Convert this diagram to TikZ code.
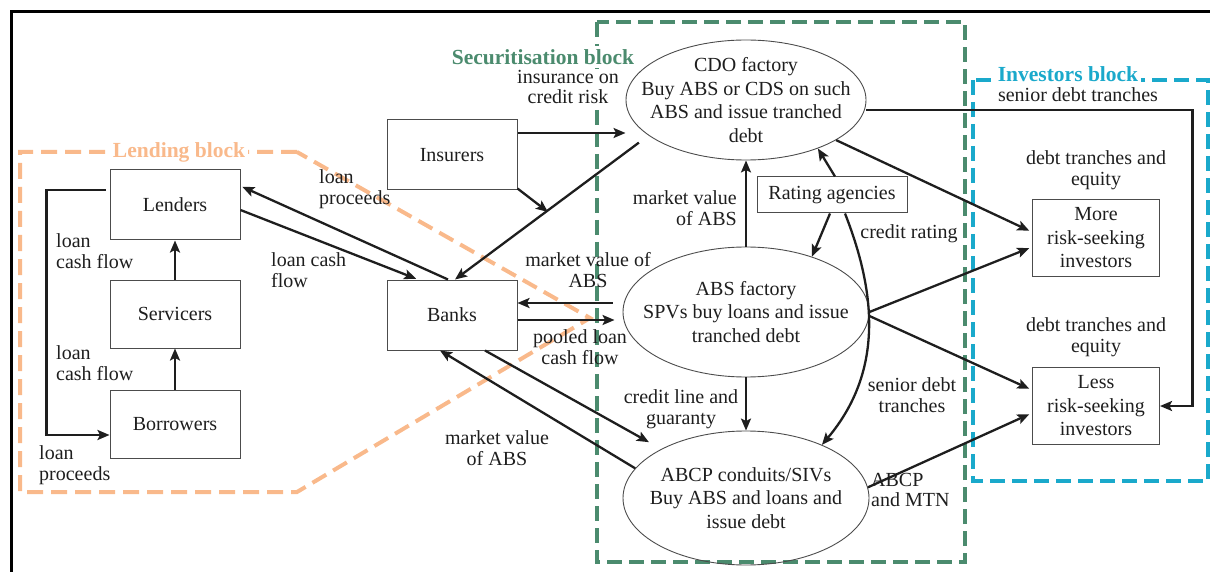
\documentclass[tikz,border=0pt]{standalone}
\usepackage{fontspec}
\setmainfont{Liberation Serif}
\usetikzlibrary{arrows.meta,shapes.geometric,calc}
\definecolor{secgreen}{HTML}{4B8B6E}
\definecolor{lendorange}{HTML}{F9B98B}
\definecolor{invcyan}{HTML}{1AA9CB}
\definecolor{ink}{HTML}{1E1E1E}
\begin{document}
\begin{tikzpicture}[x=1pt,y=-1pt,
  every node/.style={font=\fontsize{20}{22}\selectfont, text=ink},
  box/.style={draw=black!70, line width=1pt, minimum width=130pt, minimum height=70pt, inner sep=2pt, align=center, font=\fontsize{20}{23.5}\selectfont},
  ell/.style={draw=black!70, line width=0.9pt, ellipse, inner sep=0pt},
  elltxt/.style={align=center, inner sep=0pt, font=\fontsize{20}{23.5}\selectfont, text=ink},
  lbl/.style={inner sep=1pt, font=\fontsize{20}{20.5}\selectfont},
  blocklbl/.style={inner sep=3pt, fill=white, font=\fontsize{21.5}{22}\selectfont\bfseries},
  arr/.style={-{Stealth[length=12pt,width=10pt,inset=2.5pt]}, line width=2.3pt, draw=ink},
  blk/.style={line width=4pt, dash pattern=on 15pt off 7pt}
]
\useasboundingbox (0,0) rectangle (1210,572);
% frame
\draw[line width=3pt] (11.5,572) -- (11.5,11.5) -- (1210,11.5);

% blocks
\draw[blk, secgreen] (597,22) rectangle (965,562);
\draw[blk, invcyan] (973,80) rectangle (1208,481);
\draw[blk, lendorange, dash pattern=on 16pt off 8pt] (297,152) -- (20,152) -- (20,492) -- (297,492) -- (590,318) -- cycle;

\node[blocklbl, text=secgreen] (seclbl) at (543,57) {Securitisation block};
\node[blocklbl, text=lendorange] (lendlbl) at (179,152) {Lending block};
\node[blocklbl, text=invcyan] (invlbl) at (1068,74) {Investors block};

% boxes
\node[box] (ins) at (452,155) {Insurers};
\node[box] (lenders) at (175,205) {Lenders};
\node[box, minimum height=68pt] (serv) at (175,314) {Servicers};
\node[box, minimum height=68pt] (borr) at (175,424) {Borrowers};
\node[box] (banks) at (452,315) {Banks};
\node[box, minimum width=150pt, minimum height=36pt] (rating) at (832,195) {Rating agencies};
\node[box, minimum width=127pt, minimum height=77pt] (more) at (1096,238) {More\\risk-seeking\\investors};
\node[box, minimum width=127pt, minimum height=77pt] (less) at (1096,406) {Less\\risk-seeking\\investors};

% ellipses
\node[ell, minimum width=240pt, minimum height=120pt, label={[elltxt]center:{CDO factory\\Buy ABS or CDS on such\\ABS and issue tranched\\debt}}] (cdo) at (746,100) {};
\node[ell, minimum width=246pt, minimum height=130pt, label={[elltxt]center:{ABS factory\\SPVs buy loans and issue\\tranched debt}}] (abs) at (746,312) {};
\node[ell, minimum width=246pt, minimum height=134pt, label={[elltxt]center:{ABCP conduits/SIVs\\Buy ABS and loans and\\issue debt}}] (abcp) at (746,498) {};

% labels
\node[lbl, fill=white, align=center] (l_ins) at (568,87) {insurance on\\credit risk};
\node[lbl, align=left, anchor=west] (l_lp) at (318,189) {loan\\proceeds};
\node[lbl, align=left, anchor=west] (l_lcf) at (270,270) {loan cash\\flow};
\node[lbl, align=left, anchor=west] (l_cf1) at (55,251) {loan\\cash flow};
\node[lbl, align=left, anchor=west] (l_cf2) at (55,363) {loan\\cash flow};
\node[lbl, align=left, anchor=west] (l_lp2) at (38,465) {loan\\proceeds};
\node[lbl, align=center] (l_mv1) at (588,270) {market value of\\ABS};
\node[lbl, align=center] (l_pool) at (580,347) {pooled loan\\cash flow};
\node[lbl, align=right, anchor=east] (l_mv2) at (738,208) {market value\\of ABS};
\node[lbl] (l_cr) at (909,234) {credit rating};
\node[lbl, align=center] (l_sdt) at (912,395) {senior debt\\tranches};
\node[lbl, align=center] (l_cl) at (681,409) {credit line and\\guaranty};
\node[lbl, align=center] (l_mv3) at (497,448) {market value\\of ABS};
\node[lbl, align=left, anchor=west] (l_abcp) at (870,490) {ABCP\\and MTN};
\node[lbl] (l_sen) at (1078,95) {senior debt tranches};
\node[lbl, align=center] (l_dt1) at (1096,170) {debt tranches and\\equity};
\node[lbl, align=center] (l_dt2) at (1096,337) {debt tranches and\\equity};

% connectors
\coordinate (insp) at (548,212);
\draw[arr] ([yshift=22pt]ins.east) -- ([yshift=22pt]ins.east -| cdo.west);
\draw[arr] ([yshift=2pt]ins.south east) -- (insp);
\draw[arr, shorten <=12pt] (cdo.200) -- ([xshift=3pt]banks.north);
\draw[arr, shorten >=2pt] ([xshift=-4pt]banks.north) -- ([yshift=19pt]lenders.east);
\draw[arr, shorten >=2pt] ([yshift=-5pt]lenders.east) -- ([xshift=-34pt]banks.north);
\draw[arr] ([yshift=15pt, xshift=-4pt]lenders.west) -- ++(-59,0) |- ([yshift=-11pt]borr.west);
\draw[arr] (serv.north) -- (lenders.south);
\draw[arr] (borr.north) -- (serv.south);
\draw[arr] ([yshift=12pt, xshift=-10pt]banks.east -| abs.west) -- ([yshift=12pt]banks.east);
\draw[arr] ([yshift=-5pt]banks.east) -- ([yshift=-5pt, xshift=-8pt]banks.east -| abs.west);
\draw[arr] (abs.north) -- (cdo.south);
\draw[arr] (abs.south) -- (abcp.north);
\draw[arr] ([xshift=3pt]rating.north) -- (cdo.326);
\draw[arr] ([xshift=-2pt]rating.south) -- (abs.40);
\draw[arr] ([xshift=13pt]rating.south) .. controls (875,290) and (885,370) .. (abcp.35);
\draw[arr, shorten >=3pt] (abs.east) -- ([yshift=-9pt]more.west);
\draw[arr, shorten >=3pt] (cdo.336) -- ([yshift=6pt]more.west);
\draw[arr, shorten >=3pt] ([yshift=-4pt]abs.east) -- ([yshift=16pt]less.west);
\draw[arr, shorten >=3pt] (abcp.5) -- ([yshift=-7pt]less.west);
\draw[arr] ([yshift=-10pt]cdo.east) -- ++(326,0) |- (less.east);
\draw[arr, shorten >=14pt] ([xshift=33pt]banks.south) -- (abcp.150);
\draw[arr] (abcp.165) -- ([xshift=-12pt]banks.south);
\end{tikzpicture}
\end{document}
